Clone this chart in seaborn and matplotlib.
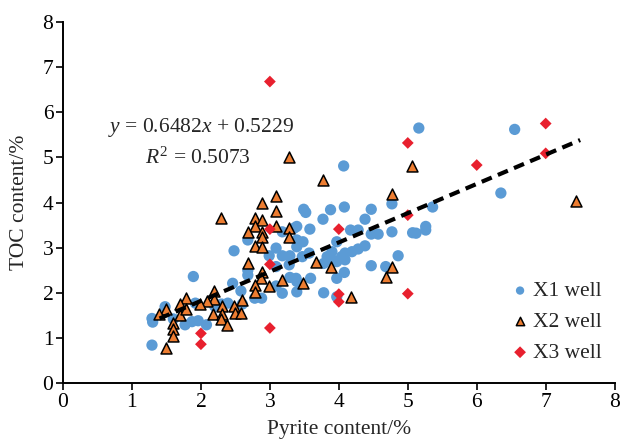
import matplotlib
matplotlib.use("Agg")
import matplotlib.pyplot as plt
import seaborn as sns
import pandas as pd

# Pyrite (%) and TOC (%) measurements per well
x1_pyrite = [1.29, 1.29, 1.48, 1.60, 1.30, 1.77, 1.87, 1.96, 2.08, 1.89, 1.92, 2.39, 2.48,
             2.68, 2.68, 2.78, 2.88, 2.58, 2.46, 3.09, 3.18, 3.29, 3.29, 3.18, 3.35, 2.99,
             2.68, 3.49, 3.52, 3.88, 3.77, 3.39, 3.58, 3.18, 3.39, 3.48, 3.39, 3.57, 3.83,
             3.97, 4.04, 3.97, 3.09, 3.38, 4.08, 4.47, 4.38, 4.77, 4.17, 4.28, 4.47, 4.57,
             4.77, 5.07, 5.26, 5.26, 5.36, 3.90, 4.09, 4.19, 4.28, 4.38, 3.90, 4.09, 4.86,
             4.47, 4.68, 4.08, 3.97, 3.97, 3.78, 5.16, 4.07, 6.55, 6.35, 3.39, 3.39, 3.09,
             3.28, 3.59, 3.78, 3.47, 2.20, 2.30, 2.60, 5.12]
x1_toc = [1.43, 0.84, 1.69, 1.42, 1.35, 1.29, 1.36, 1.38, 1.29, 2.36, 1.77, 1.77, 2.93,
          2.39, 2.50, 1.88, 1.88, 2.04, 2.21, 2.99, 2.82, 2.82, 2.34, 1.99, 3.43, 2.82,
          3.17, 3.85, 3.78, 3.84, 3.63, 3.47, 3.41, 3.35, 3.17, 3.13, 3.02, 2.88, 2.80,
          3.13, 2.80, 2.69, 2.58, 2.32, 3.90, 3.85, 3.63, 3.97, 3.39, 3.39, 3.30, 3.30,
          3.35, 3.33, 3.47, 3.39, 3.90, 2.91, 2.88, 2.91, 2.97, 3.04, 2.73, 2.73, 2.82,
          2.60, 2.58, 2.45, 2.32, 1.91, 2.00, 5.65, 4.81, 5.62, 4.21, 2.25, 2.02, 2.15,
          2.62, 2.32, 2.65, 2.80, 1.70, 1.75, 1.75, 3.32]

x2_pyrite = [2.29, 3.09, 2.88, 3.09, 2.78, 2.88, 2.79, 3.09, 2.88, 2.68, 2.88, 3.28, 3.28,
             2.78, 2.88, 2.68, 2.88, 2.87, 3.18, 2.78, 2.78, 2.98, 2.19, 2.59, 2.48, 2.30,
             2.19, 2.09, 1.99, 1.79, 1.69, 1.69, 1.49, 1.39, 1.59, 1.59, 1.59, 1.49, 2.18,
             2.30, 2.29, 2.38, 2.49, 2.58, 1.79, 3.77, 3.28, 5.06, 4.77, 3.67, 3.88, 4.77,
             4.68, 4.17, 3.48, 7.44]
x2_toc = [3.65, 4.15, 3.98, 3.82, 3.65, 3.62, 3.47, 3.48, 3.35, 3.35, 3.23, 3.43, 3.23,
          3.04, 3.01, 2.67, 2.47, 2.32, 2.28, 2.17, 2.02, 2.15, 2.03, 1.85, 1.70, 1.71,
          1.86, 1.81, 1.75, 1.89, 1.75, 1.51, 1.65, 1.52, 1.33, 1.20, 1.05, 0.77, 1.53,
          1.54, 1.42, 1.29, 1.56, 1.55, 1.64, 4.49, 5.00, 4.81, 4.19, 2.69, 2.58, 2.58,
          2.36, 1.90, 2.22, 4.04]

x3_pyrite = [3.0, 5.0, 7.0, 7.0, 6.0, 5.0, 4.0, 3.0, 3.0, 3.0, 2.0, 2.0, 4.0, 4.0, 5.0]
x3_toc = [6.68, 5.32, 5.75, 5.09, 4.83, 3.72, 3.41, 3.41, 2.63, 1.22, 1.10, 0.86, 1.97, 1.80, 1.98]

well_names = ["X1 well", "X2 well", "X3 well"]

# Linear fit over all wells
fit_slope = 0.6482
fit_intercept = 0.5229
fit_r2 = 0.5073
fit_x_range = [1.4, 7.5]

axis_ticks = [0, 1, 2, 3, 4, 5, 6, 7, 8]

sns.set_theme(style="ticks")
plt.rcParams["font.family"] = ["Liberation Serif", "DejaVu Serif"]
plt.rcParams["mathtext.fontset"] = "custom"
plt.rcParams["mathtext.rm"] = "Liberation Serif"
plt.rcParams["mathtext.it"] = "Liberation Serif:italic"

fig = plt.figure(figsize=(6.24, 4.40), dpi=100)
ax = fig.add_axes([0.101, 0.1295, 0.884, 0.8205])

frames = [
    pd.DataFrame({"pyrite": x1_pyrite, "toc": x1_toc, "well": well_names[0]}),
    pd.DataFrame({"pyrite": x2_pyrite, "toc": x2_toc, "well": well_names[1]}),
    pd.DataFrame({"pyrite": x3_pyrite, "toc": x3_toc, "well": well_names[2]}),
]
styles = [
    dict(marker="o", color="#5B9BD5", s=66, edgecolor="none", linewidth=0),
    dict(marker="^", color="#ED7D31", s=62, edgecolor="black", linewidth=1.1),
    dict(marker="D", color="#E8202E", s=36, edgecolor="none", linewidth=0),
]
for df, st, name in zip(frames, styles, well_names):
    sns.scatterplot(data=df, x="pyrite", y="toc", ax=ax, label=name, zorder=3, **st)

fit_df = pd.DataFrame({"pyrite": fit_x_range,
                       "toc": [fit_slope * v + fit_intercept for v in fit_x_range]})
sns.lineplot(data=fit_df, x="pyrite", y="toc", ax=ax, color="black", linewidth=3,
             dashes=False, zorder=4, legend=False)
ax.lines[-1].set_dashes([2.6, 1.6])

ax.text(2.0, 5.66, r"$y$ = 0.6482$x$ + 0.5229", fontsize=15.5, ha="center", va="center")
ax.text(1.95, 4.99, r"$R^2$ = 0.5073", fontsize=15.5, ha="center", va="center")

ax.set_xlim(0, 8)
ax.set_ylim(0, 8)
ax.set_xticks(axis_ticks)
ax.set_yticks(axis_ticks)
ax.tick_params(labelsize=15.5, direction="out", length=5, width=1.2, colors="black", pad=2)
for side in ["left", "bottom"]:
    ax.spines[side].set_linewidth(1.4)
    ax.spines[side].set_color("black")
sns.despine(ax=ax)
ax.set_xlabel("Pyrite content/%", fontsize=15.5, labelpad=6)
ax.set_ylabel("TOC content/%", fontsize=15.5, labelpad=10)

leg = ax.legend(loc="lower right", bbox_to_anchor=(1.0, 0.02), frameon=False, fontsize=15.5,
                handletextpad=0.1, labelspacing=0.5, handlelength=1.0, borderaxespad=0.2)
for h in leg.legend_handles:
    h.set_sizes([36])

fig.savefig("out.png", dpi=100)
